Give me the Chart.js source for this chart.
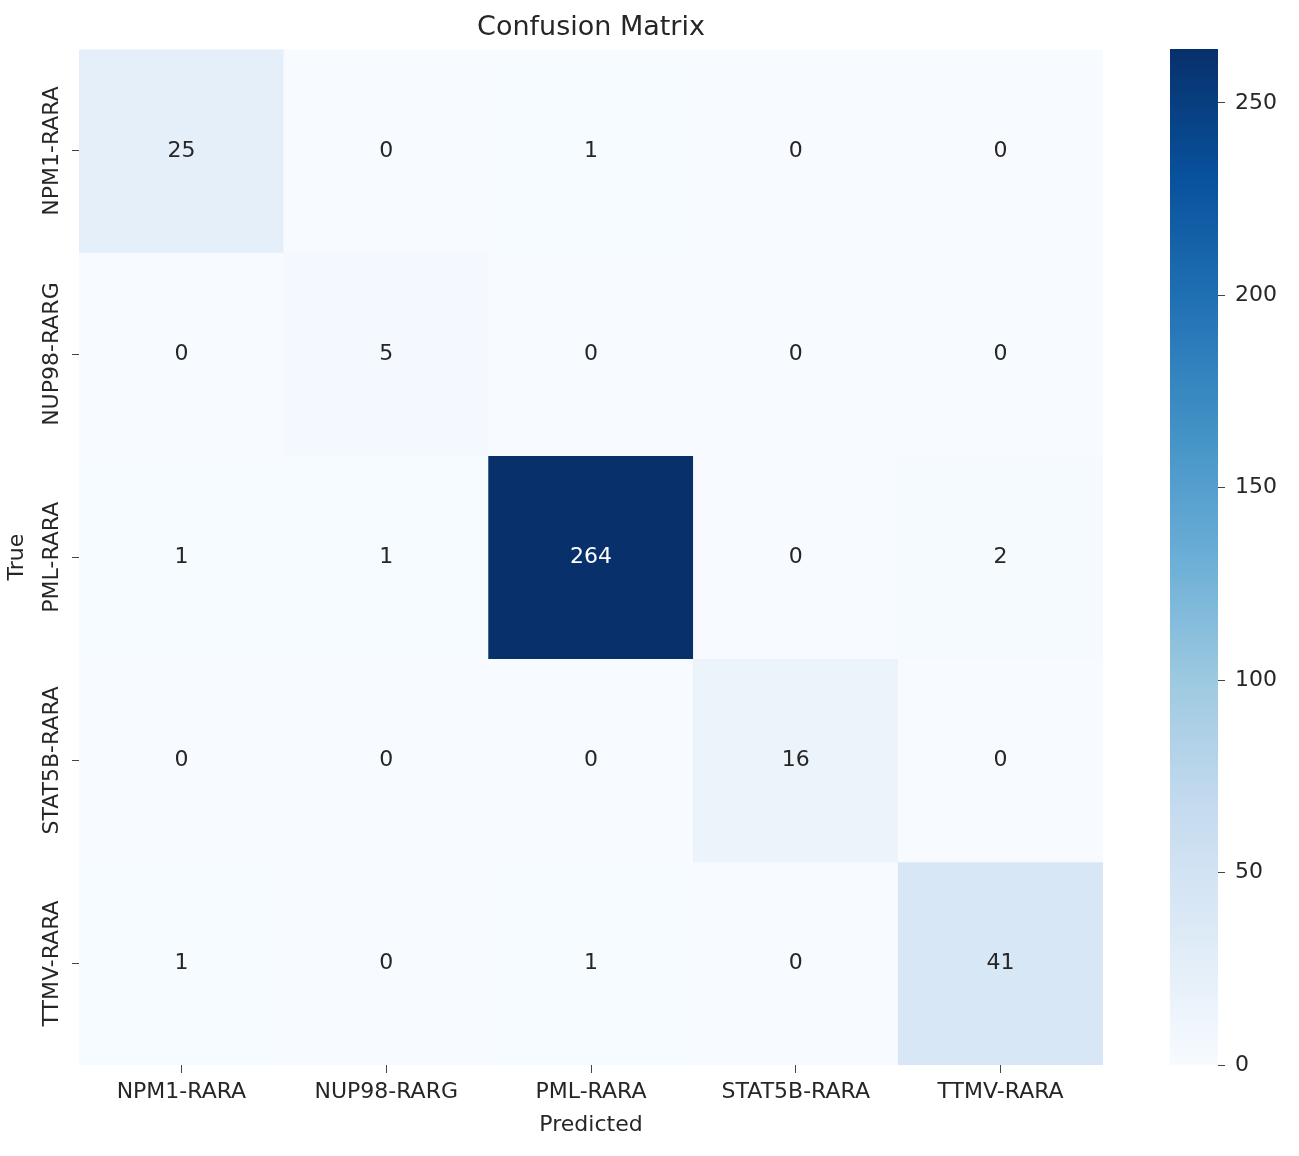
<!DOCTYPE html>
<html>
<head>
<meta charset="utf-8">
<script src="https://cdn.jsdelivr.net/npm/chart.js@4.4.0/dist/chart.umd.min.js"></script>
<style>
  body { margin: 0; background: #fff; }
  #wrap { position: relative; width: 1299px; height: 1156px; }
  canvas { position: absolute; top: 0; }
</style>
</head>
<body>
<div id="wrap">
  <canvas id="cm" width="1299" height="1156" style="left:0"></canvas>
  <canvas id="cb" width="159" height="1156" style="left:1140px"></canvas>
</div>
<script>
const predictedLabels = ['NPM1-RARA', 'NUP98-RARG', 'PML-RARA', 'STAT5B-RARA', 'TTMV-RARA'];
const trueLabels = ['NPM1-RARA', 'NUP98-RARG', 'PML-RARA', 'STAT5B-RARA', 'TTMV-RARA'];
// one row per true class
const rowNPM1 = [25, 0, 1, 0, 0];
const rowNUP98 = [0, 5, 0, 0, 0];
const rowPML = [1, 1, 264, 0, 2];
const rowSTAT5B = [0, 0, 0, 16, 0];
const rowTTMV = [1, 0, 1, 0, 41];
const matrix = [rowNPM1, rowNUP98, rowPML, rowSTAT5B, rowTTMV];
const colorbarTicks = [0, 50, 100, 150, 200, 250];
const vmax = 264;

const FONT = '"DejaVu Sans", sans-serif';
const TXT = '#262626';

// matplotlib "Blues"
const bluesStops = [
  [0, '#f7fbff'], [0.125, '#deebf7'], [0.25, '#c6dbef'], [0.375, '#9ecae1'],
  [0.5, '#6baed6'], [0.625, '#4292c6'], [0.75, '#2171b5'], [0.875, '#08519c'], [1, '#08306b']
];
function hex(h) { return [1, 3, 5].map(i => parseInt(h.substr(i, 2), 16)); }
function blues(t) {
  t = Math.max(0, Math.min(1, t));
  for (let i = 1; i < bluesStops.length; i++) {
    if (t <= bluesStops[i][0]) {
      const [p0, c0] = bluesStops[i - 1], [p1, c1] = bluesStops[i];
      const f = (t - p0) / (p1 - p0), a = hex(c0), b = hex(c1);
      return 'rgb(' + a.map((v, k) => Math.round(v + (b[k] - v) * f)).join(',') + ')';
    }
  }
  return bluesStops[bluesStops.length - 1][1];
}

// numbers inside the cells
const cellText = {
  id: 'cellText',
  afterDatasetsDraw(chart) {
    const c = chart.ctx;
    c.save();
    c.font = '22px ' + FONT;
    c.textAlign = 'center';
    c.textBaseline = 'middle';
    chart.data.datasets.forEach((ds, i) => {
      chart.getDatasetMeta(i).data.forEach((bar, j) => {
        const v = matrix[i][j];
        const p = bar.getCenterPoint();
        c.fillStyle = v > vmax / 2 ? '#ffffff' : TXT;
        c.fillText(String(v), p.x, p.y);
      });
    });
    c.restore();
  }
};

// rotated labels for the true-class axis
const yLabels = {
  id: 'yLabels',
  afterDraw(chart) {
    const s = chart.scales.y, c = chart.ctx;
    c.save();
    c.font = '22px ' + FONT;
    c.fillStyle = TXT;
    c.textAlign = 'center';
    c.textBaseline = 'middle';
    s.ticks.forEach((t, i) => {
      c.save();
      c.translate(s.right - 27, s.getPixelForValue(t.value));
      c.rotate(-Math.PI / 2);
      c.fillText(trueLabels[i], 0, 0);
      c.restore();
    });
    c.restore();
  }
};

new Chart(document.getElementById('cm'), {
  type: 'bar',
  data: {
    labels: predictedLabels,
    datasets: matrix.map((row, i) => ({
      label: trueLabels[i],
      data: row.map(() => 1),
      backgroundColor: row.map(v => blues(v / vmax)),
      borderWidth: 0,
      barPercentage: 1,
      categoryPercentage: 1
    }))
  },
  options: {
    responsive: false,
    animation: false,
    layout: { padding: { left: 0, right: 196, top: 0, bottom: 0 } },
    plugins: {
      legend: { display: false },
      tooltip: { enabled: false },
      title: {
        display: true,
        text: 'Confusion Matrix',
        fullSize: false,
        color: TXT,
        font: { family: FONT, size: 27, weight: 'normal' },
        padding: { top: 12, bottom: 5 }
      }
    },
    scales: {
      x: {
        stacked: true,
        grid: { display: true, drawOnChartArea: false, drawTicks: true, tickLength: 8, offset: false, color: '#444' },
        border: { display: false },
        ticks: { color: TXT, font: { family: FONT, size: 22 }, padding: 6, maxRotation: 0 },
        title: { display: true, text: 'Predicted', color: TXT, font: { family: FONT, size: 22 }, padding: { top: 0, bottom: 18 } },
        afterFit(s) { s.height = 91; }
      },
      y: {
        stacked: true,
        reverse: true,
        min: 0,
        max: trueLabels.length,
        afterBuildTicks(s) { s.ticks = trueLabels.map((l, i) => ({ value: i + 0.5 })); },
        grid: { display: true, drawOnChartArea: false, drawTicks: true, tickLength: 7, color: '#444' },
        border: { display: false },
        ticks: { display: false },
        title: { display: true, text: 'True', color: TXT, font: { family: FONT, size: 22 }, padding: { top: 4, bottom: 0 } },
        afterFit(s) { s.width = 79; }
      }
    }
  },
  plugins: [cellText, yLabels]
});

new Chart(document.getElementById('cb'), {
  type: 'bar',
  data: {
    labels: [''],
    datasets: [{
      data: [[0, vmax]],
      backgroundColor(ctx) {
        const ch = ctx.chart, y = ch.scales.y;
        if (!ch.chartArea || !y) return blues(0.5);
        const g = ch.ctx.createLinearGradient(0, y.getPixelForValue(0), 0, y.getPixelForValue(vmax));
        bluesStops.forEach(([p, col]) => g.addColorStop(p, col));
        return g;
      },
      borderWidth: 0,
      barPercentage: 1,
      categoryPercentage: 1
    }]
  },
  options: {
    responsive: false,
    animation: false,
    layout: { padding: { left: 30, right: 0, top: 49, bottom: 91 } },
    plugins: { legend: { display: false }, tooltip: { enabled: false } },
    scales: {
      x: { display: false },
      y: {
        position: 'right',
        min: 0,
        max: vmax,
        afterBuildTicks(s) { s.ticks = colorbarTicks.map(v => ({ value: v })); },
        grid: { display: true, drawOnChartArea: false, drawTicks: true, tickLength: 7, color: '#444' },
        border: { display: false },
        ticks: { color: TXT, font: { family: FONT, size: 22 }, padding: 10 },
        afterFit(s) { s.width = 81; }
      }
    }
  }
});
</script>
</body>
</html>
